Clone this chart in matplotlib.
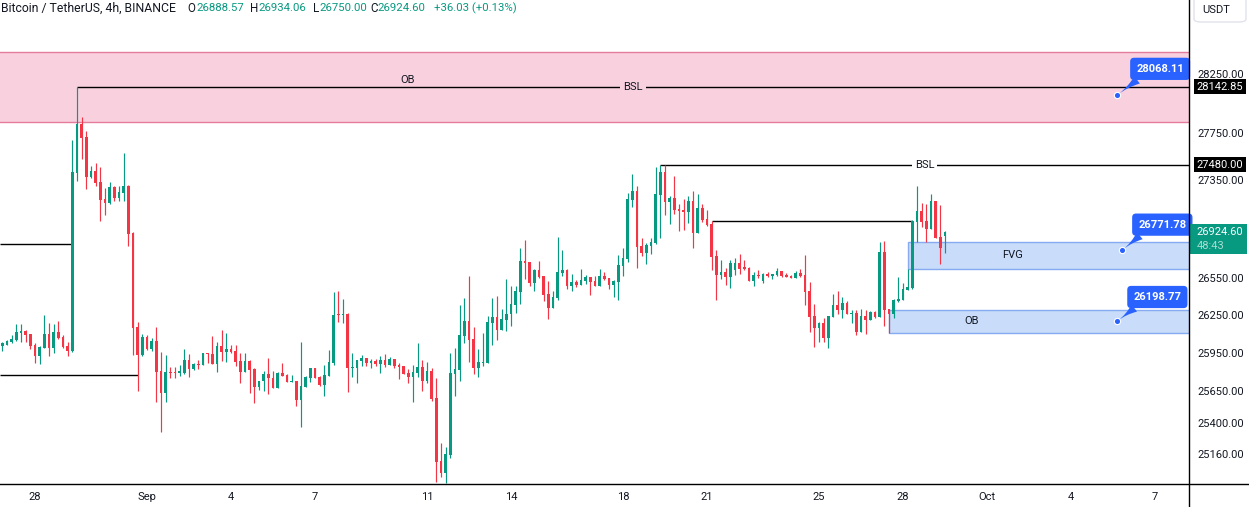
import numpy as np
import pandas as pd
import matplotlib
matplotlib.use('Agg')
import matplotlib.pyplot as plt
import matplotlib.dates as mdates
import matplotlib.transforms as mtransforms
from matplotlib.patches import Rectangle, FancyBboxPatch
from matplotlib.lines import Line2D

plt.rcParams['font.family'] = ['Roboto', 'DejaVu Sans']

# BTCUSDT 4h candles, first one opens 2023-08-26 20:00
opens = [
    26003, 26011, 26035, 26051, 26107, 26123, 26099, 26011, 25924, 25987,
    26099, 25987, 26115, 26075, 26003, 25964, 27411, 27823, 27713, 27377,
    27427, 27336, 27194, 27160, 27294, 27202, 27244, 27302, 26914, 26155,
    25932, 26075, 25979, 26043, 25806, 25633, 25798, 25796, 25790, 25790,
    25892, 25821, 25861, 25853, 25948, 25940, 25861, 26003, 25956, 25979,
    25964, 25884, 25798, 25884, 25821, 25680, 25727, 25782, 25751, 25672,
    25790, 25774, 25719, 25727, 25578, 25680, 25751, 25829, 25759, 25696,
    25766, 25868, 26258, 26250, 26258, 25829, 25829, 25884, 25908, 25868,
    25884, 25861, 25892, 25853, 25900, 25853, 25845, 25790, 25759, 25790,
    25837, 25727, 25806, 25594, 25107, 25016, 25153, 25782, 25814, 26083,
    26202, 26059, 25829, 25868, 25868, 26186, 26234, 26130, 26210, 26258,
    26330, 26434, 26685, 26677, 26507, 26613, 26564, 26418, 26306, 26386,
    26588, 26613, 26483, 26515, 26491, 26523, 26556, 26523, 26483, 26564,
    26548, 26491, 26515, 26645, 26702, 27185, 27260, 26807, 26750, 26807,
    26832, 27227, 27419, 27169, 27202, 27111, 27103, 27087, 27177, 26914,
    27119, 27029, 26988, 26726, 26572, 26596, 26556, 26613, 26669, 26637,
    26629, 26523, 26572, 26523, 26580, 26564, 26572, 26604, 26572, 26564,
    26548, 26588, 26572, 26442, 26242, 26146, 26186, 26067, 26234, 26330,
    26290, 26346, 26258, 26266, 26115, 26242, 26210, 26274, 26234, 26758,
    26298, 26258, 26362, 26370, 26450, 26467, 27005, 27095, 27013, 26947,
    27177, 26882, 26888.57,
]
highs = [
    26035, 26051, 26091, 26178, 26178, 26130, 26099, 26027, 26003, 26250,
    26186, 26178, 26202, 26091, 26035, 27688, 28142.85, 27883, 27764, 27469,
    27494, 27461, 27286, 27336, 27302, 27302, 27578, 27311, 26923, 26194,
    26099, 26091, 26067, 26155, 25956, 25932, 25837, 25837, 25853, 25979,
    25940, 25868, 25892, 25950, 25950, 26083, 26035, 26130, 26107, 26011,
    26011, 25948, 25948, 25888, 25825, 25730, 25806, 25908, 25806, 25795,
    25868, 25778, 25774, 25730, 26035, 25762, 25832, 25832, 25762, 25853,
    25972, 26434, 26442, 26378, 26266, 25948, 25895, 25932, 25911, 25900,
    25900, 25924, 25940, 25916, 25903, 25868, 25848, 25821, 25853, 26027,
    25892, 25876, 25829, 25751, 25245, 25214, 25948, 25987, 26330, 26386,
    26564, 26155, 25979, 26107, 26242, 26386, 26402, 26298, 26540, 26483,
    26483, 26791, 26856, 26680, 26621, 26685, 26567, 26523, 26442, 26882,
    26775, 26616, 26580, 26531, 26621, 26572, 26559, 26564, 26621, 26596,
    26551, 26531, 26734, 26791, 27244, 27402, 27302, 26873, 26832, 26873,
    27461, 27480, 27477, 27219, 27386, 27152, 27194, 27219, 27260, 27235,
    27152, 27103, 27013, 26775, 26694, 26629, 26694, 26710, 26742, 26694,
    26637, 26596, 26613, 26588, 26596, 26583, 26629, 26607, 26588, 26572,
    26604, 26621, 26734, 26515, 26338, 26194, 26226, 26245, 26418, 26442,
    26394, 26362, 26290, 26290, 26298, 26290, 26282, 26282, 26840, 26848,
    26300, 26378, 26556, 26507, 26621, 27017, 27302, 27160, 27152, 27235,
    27180, 27144, 26934.06,
]
lows = [
    25964, 26008, 26027, 26045, 26035, 26035, 25979, 25868, 25861, 25987,
    25924, 25948, 26059, 25987, 25924, 25956, 27344, 27527, 27277, 27369,
    27302, 27013, 27062, 27155, 27177, 27177, 27177, 26807, 25932, 25649,
    25924, 25972, 25964, 25562, 25330, 25562, 25751, 25751, 25766, 25782,
    25759, 25814, 25821, 25850, 25868, 25858, 25798, 25884, 25876, 25950,
    25845, 25712, 25795, 25633, 25555, 25657, 25649, 25625, 25668, 25668,
    25763, 25715, 25715, 25531, 25369, 25676, 25719, 25748, 25688, 25610,
    25763, 25853, 26194, 26186, 25641, 25759, 25712, 25845, 25845, 25829,
    25845, 25790, 25837, 25850, 25829, 25743, 25779, 25712, 25562, 25759,
    25649, 25712, 25570, 24947, 24986, 24940, 25130, 25610, 25727, 26027,
    25876, 25782, 25759, 25845, 25865, 26011, 26051, 26126, 26123, 26162,
    26266, 26338, 26540, 26483, 26442, 26548, 26362, 26218, 26302, 26370,
    26564, 26459, 26442, 26475, 26488, 26499, 26410, 26480, 26480, 26531,
    26459, 26394, 26370, 26564, 26677, 27128, 26629, 26726, 26661, 26742,
    26824, 26873, 27062, 26988, 27070, 26931, 26939, 26996, 26791, 26910,
    27005, 26972, 26613, 26370, 26540, 26491, 26467, 26572, 26580, 26613,
    26520, 26483, 26548, 26507, 26556, 26540, 26564, 26556, 26553, 26545,
    26545, 26556, 26330, 26115, 25995, 26035, 26035, 25987, 26230, 26258,
    26226, 26255, 26186, 26091, 26112, 26099, 26206, 26226, 26230, 26162,
    26107, 26226, 26354, 26366, 26446, 26459, 26840, 26964, 26840, 26943,
    26870, 26661, 26750.00,
]
closes = [
    26027, 26043, 26059, 26115, 26123, 26091, 26003, 25924, 25995, 26099,
    25987, 26115, 26067, 25995, 25964, 27419, 27823, 27705, 27377, 27427,
    27327, 27185, 27160, 27294, 27202, 27252, 27302, 26906, 26146, 25932,
    26075, 25979, 26043, 25798, 25633, 25798, 25790, 25788, 25806, 25892,
    25821, 25861, 25853, 25948, 25940, 25861, 26003, 25956, 25979, 25956,
    25876, 25798, 25884, 25814, 25680, 25727, 25782, 25751, 25672, 25790,
    25766, 25719, 25727, 25578, 25688, 25759, 25829, 25751, 25696, 25774,
    25876, 26250, 26250, 26258, 25829, 25837, 25892, 25908, 25868, 25884,
    25861, 25892, 25853, 25900, 25845, 25837, 25782, 25759, 25798, 25837,
    25727, 25806, 25586, 25100, 25016, 25161, 25790, 25821, 26091, 26202,
    26051, 25829, 25876, 25876, 26194, 26234, 26130, 26218, 26258, 26338,
    26442, 26685, 26669, 26507, 26613, 26556, 26410, 26306, 26394, 26596,
    26613, 26483, 26515, 26491, 26531, 26556, 26515, 26483, 26564, 26540,
    26491, 26523, 26653, 26710, 27194, 27260, 26799, 26750, 26816, 26840,
    27235, 27419, 27169, 27202, 27103, 27095, 27087, 27177, 26914, 27119,
    27021, 26980, 26718, 26572, 26596, 26556, 26669, 26669, 26621, 26621,
    26523, 26572, 26564, 26580, 26564, 26580, 26604, 26564, 26556, 26548,
    26588, 26564, 26434, 26234, 26146, 26186, 26067, 26242, 26330, 26290,
    26346, 26258, 26266, 26115, 26242, 26210, 26274, 26234, 26758, 26290,
    26258, 26370, 26378, 26459, 26475, 27013, 27095, 27005, 26947, 27177,
    26873, 26791, 26924.60,
]

# drawn levels
zone_top, zone_bot = 28440, 27843          # pink OB zone
bsl_high, bsl_high_from = 28142.85, 16     # candle index where the line starts
bsl_mid, bsl_mid_from = 27480.00, 141
eq_price, eq_from, eq_to = 27013, 152, 195
left_lvl1, left_lvl1_to = 26824, 15
left_lvl2, left_lvl2_to = 25772, 29
fvg_top, fvg_bot, fvg_from = 26840, 26621, 194
ob_top, ob_bot, ob_from = 26292, 26107, 190
callouts = [('2023-10-05 15:30', 28068.11), ('2023-10-05 19:45', 26771.78), ('2023-10-05 15:30', 26198.77)]
callout_offsets = [(31, 19), (29, 18.5), (29, 17.5)]

yticks = [28250, 27750, 27350, 26550, 26250, 25950, 25650, 25400, 25160]
xtick_dates = ['2023-08-28', '2023-09-01', '2023-09-04', '2023-09-07', '2023-09-11', '2023-09-14',
               '2023-09-18', '2023-09-21', '2023-09-25', '2023-09-28', '2023-10-01', '2023-10-04', '2023-10-07']
xtick_labels = ['28', 'Sep', '4', '7', '11', '14', '18', '21', '25', '28', 'Oct', '4', '7']

GREEN, RED, BLUE, INK = '#089981', '#f23645', '#2962ff', '#131722'
PINK, PINK_EDGE = '#f9d1de', '#e47c9c'
LBLUE, LBLUE_EDGE = '#c9dcf9', '#86abf2'

W, H = 1249, 507
fig = plt.figure(figsize=(W / 100, H / 100), dpi=100)
ax = fig.add_axes([0, 1 - 484 / H, 1189 / W, 484 / H])
ax.set_facecolor('white')

period = 4 / 24
t = mdates.date2num(pd.date_range('2023-08-26 20:00', periods=len(opens), freq='4h').to_pydatetime())
o, h, l, c = (np.array(v, dtype=float) for v in (opens, highs, lows, closes))

x_left = mdates.date2num(pd.Timestamp('2023-08-26 18:00'))
x_right = x_left + 1189 / 28.0
ax.set_xlim(x_left, x_right)
ax.set_yscale('log')
ax.set_ylim(24931, 28895)

# candles
col = np.where(c >= o, GREEN, RED)
ax.vlines(t, l, h, colors=col, lw=0.85, zorder=3)
ax.bar(t, np.maximum(np.abs(c - o), 7), bottom=np.minimum(o, c), width=period * 0.64,
       color=col, lw=0, zorder=4)

# pink zone (extends past both edges)
ax.add_patch(Rectangle((x_left - 5, zone_bot), x_right - x_left + 10, zone_top - zone_bot,
                       fc=PINK, ec=PINK_EDGE, lw=1, zorder=1))

# levels
ax.hlines(bsl_high, t[bsl_high_from], x_right, color='black', lw=1, zorder=2)
ax.hlines(bsl_mid, t[bsl_mid_from], x_right, color='black', lw=1, zorder=2)
ax.hlines(eq_price, t[eq_from], t[eq_to], color='black', lw=1, zorder=2)
ax.hlines(left_lvl1, x_left, t[left_lvl1_to], color='black', lw=1, zorder=2)
ax.hlines(left_lvl2, x_left, t[left_lvl2_to], color='black', lw=1, zorder=2)

ax.text((t[bsl_high_from] + x_right) / 2, bsl_high, 'BSL', ha='center', va='center', fontsize=8,
        color=INK, zorder=5, bbox=dict(boxstyle='square,pad=0.25', fc=PINK, ec='none'))
ax.text((t[bsl_mid_from] + x_right) / 2, bsl_mid, 'BSL', ha='center', va='center', fontsize=8,
        color=INK, zorder=5, bbox=dict(boxstyle='square,pad=0.25', fc='white', ec='none'))
ax.annotate('OB', xy=(mdates.date2num(pd.Timestamp('2023-09-10 07:00')), bsl_high), xytext=(0, 4.5),
            textcoords='offset points', ha='center', va='center', fontsize=8, color=INK, zorder=5)

# FVG and OB boxes
for top, bot, start, label, lx in [(fvg_top, fvg_bot, fvg_from, 'FVG', '2023-10-01 21:30'),
                                   (ob_top, ob_bot, ob_from, 'OB', '2023-09-30 11:00')]:
    ax.add_patch(Rectangle((t[start], bot), x_right + 2 - t[start], top - bot, fc=LBLUE,
                           ec=LBLUE_EDGE, lw=1, zorder=2))
    ax.text(mdates.date2num(pd.Timestamp(lx)), np.sqrt(top * bot), label, ha='center', va='center',
            fontsize=8, color=INK, zorder=5)

# callouts
for (when, price), (dx, dy) in zip(callouts, callout_offsets):
    xt = mdates.date2num(pd.Timestamp(when))
    ax.annotate(f'{price:.2f}', xy=(xt, price), xytext=(dx, dy), textcoords='offset points',
                ha='center', va='center', fontsize=8, fontweight='bold', color='white', zorder=9,
                bbox=dict(boxstyle='round,pad=0.55,rounding_size=0.35', fc=BLUE, ec='none'),
                arrowprops=dict(arrowstyle='wedge,tail_width=0.8,shrink_factor=0.25', fc=BLUE,
                                ec='none', shrinkA=0, shrinkB=1, relpos=(0.2, 0.05)),
                annotation_clip=False)
    ax.plot(xt, price, 'o', ms=4.5, mfc=BLUE, mec='white', mew=0.8, zorder=10, clip_on=False)

# axes / ticks
for s in ax.spines.values():
    s.set_visible(False)
ax.yaxis.tick_right()
ax.yaxis.set_minor_locator(matplotlib.ticker.NullLocator())
ax.set_yticks(yticks)
ax.set_yticklabels([f'{v:.2f}' for v in yticks])
ax.set_xticks(mdates.date2num(pd.to_datetime(xtick_dates).to_pydatetime()))
ax.set_xticklabels(xtick_labels)
ax.tick_params(axis='y', length=0, pad=5.8, labelsize=8, labelcolor=INK)
ax.tick_params(axis='x', length=0, pad=5.5, labelsize=8, labelcolor=INK)

fig.add_artist(Line2D([0, 1], [1 - 484 / H] * 2, color='black', lw=1))
fig.add_artist(Line2D([1189 / W] * 2, [0, 1], color='black', lw=1))

# price labels on the scale
for price in (bsl_high, bsl_mid):
    ax.annotate(f'{price:.2f}', xy=(1, price), xycoords=('axes fraction', 'data'), xytext=(5.5, 0),
                textcoords='offset points', ha='left', va='center', fontsize=8, color='white',
                bbox=dict(boxstyle='square,pad=0.22', fc='black', ec='none'), annotation_clip=False,
                zorder=10)

last = c[-1]
scale_tr = mtransforms.blended_transform_factory(ax.transAxes, ax.transData)
y_disp = ax.transData.transform((x_left, last))[1]
lab_top = ax.transData.inverted().transform((0, y_disp + 8))[1]
lab_bot = ax.transData.inverted().transform((0, y_disp - 22))[1]
ax.add_patch(Rectangle((1.0, lab_bot), 58 / 1189, lab_top - lab_bot, transform=scale_tr,
                       fc=GREEN, ec='none', clip_on=False, zorder=10))
ax.annotate(f'{last:.2f}', xy=(1, last), xycoords=('axes fraction', 'data'), xytext=(5.5, 0),
            textcoords='offset points', ha='left', va='center', fontsize=8, color='white',
            annotation_clip=False, zorder=11)
ax.annotate('48:43', xy=(1, last), xycoords=('axes fraction', 'data'), xytext=(5.5, -10.5),
            textcoords='offset points', ha='left', va='center', fontsize=8, color='#a8ddd2',
            annotation_clip=False, zorder=11)

# USDT button
fig.add_artist(FancyBboxPatch((1194 / W, 1 - 22 / H), 52 / W, 26 / H,
                              boxstyle='round,pad=0,rounding_size=0.006', fc='white', ec='#e0e3eb',
                              lw=1, transform=fig.transFigure))
fig.text(1216 / W, 1 - 10 / H, 'USDT', ha='center', va='center', fontsize=8, color=INK)

# header
hy = 1 - 8 / H
fig.text(1 / W, hy, 'Bitcoin / TetherUS, 4h, BINANCE', ha='left', va='center', fontsize=8.8, color=INK)
for lab, val, x0, xv in [('O', '26888.57', 187, 196), ('H', '26934.06', 250, 258),
                         ('L', '26750.00', 313, 319), ('C', '26924.60', 370, 377)]:
    fig.text(x0 / W, hy, lab, ha='left', va='center', fontsize=8.4, color=INK)
    fig.text(xv / W, hy, val, ha='left', va='center', fontsize=8.2, color=GREEN)
fig.text(434 / W, hy, '+36.03 (+0.13%)', ha='left', va='center', fontsize=8.2, color=GREEN)

fig.savefig('out.png', dpi=100, facecolor='white')
